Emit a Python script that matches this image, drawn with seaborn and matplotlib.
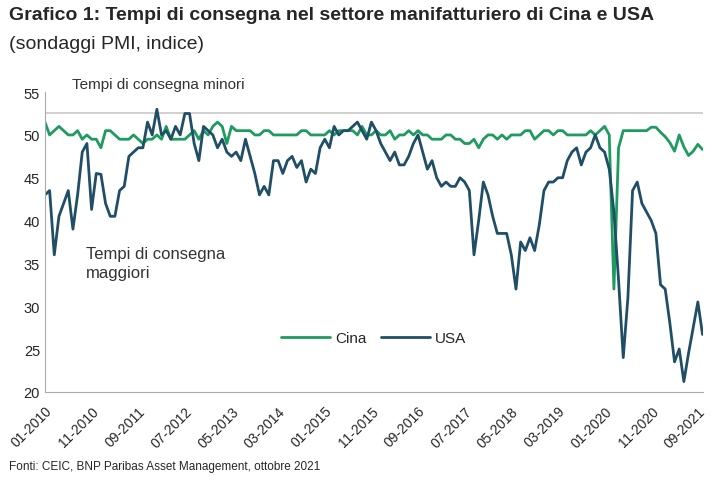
import numpy as np
import pandas as pd
import matplotlib.pyplot as plt
import seaborn as sns

# monthly PMI supplier delivery times, 01-2010 .. 10-2021
usa = [
    43, 43.5, 36, 40.5, 42, 43.5, 39, 43, 48, 49,
    41.3, 45.5, 45.4, 42, 40.5, 40.5, 43.5, 44, 47.5, 48,
    48.5, 48.5, 51.5, 50, 53, 50, 50.5, 49.5, 51, 50,
    52.5, 52.5, 49, 47, 51, 50.5, 50, 48.5, 49.5, 48,
    47.5, 48, 47, 49.5, 47.5, 45.5, 43, 44, 43, 47,
    47, 45.5, 47, 47.5, 46.2, 47, 44.5, 46, 45.5, 48.5,
    49.5, 48.5, 51, 50, 50.5, 50.5, 51, 51.5, 50.5, 49.5,
    51.5, 50.5, 49, 48, 47, 48, 46.5, 46.5, 47.5, 49,
    50, 48, 46, 47, 45, 44, 44.5, 44, 44, 45,
    44.5, 43.5, 36, 40, 44.5, 43, 40.5, 38.5, 38.5, 38.5,
    36, 32, 37.5, 36.5, 38, 36.5, 39.5, 43.5, 44.5, 44.5,
    45, 45, 47, 48, 48.5, 46.5, 48, 48.5, 50, 48.5,
    48, 46, 41, 33, 24, 31, 43.5, 44.5, 42, 41,
    40, 38.5, 32.5, 32, 28, 23.5, 25, 21.2, 24.5, 27.5, 30.5, 26.7,
]
cina = [
    51.5, 50, 50.5, 51, 50.5, 50, 50, 50.5, 49.5, 50,
    49.5, 49.5, 48.5, 50.5, 50.5, 50, 49.5, 49.5, 49.5, 50,
    49.5, 49, 49.5, 49.5, 50, 49.5, 51, 49.5, 49.5, 49.5,
    49.5, 50, 50.5, 49.5, 50.5, 50, 51, 51.5, 51, 49,
    51, 50.5, 50.5, 50.5, 50.5, 50, 50, 50.5, 50.5, 50,
    50, 50, 50, 50, 50, 50.5, 50.5, 50, 50, 50,
    50, 50.5, 50, 50.5, 50.5, 50.5, 50.5, 50, 51, 50,
    50, 50.5, 50, 50, 50.5, 49.5, 50, 50, 50.5, 50,
    50.5, 50, 50, 49.5, 49.5, 49.5, 50, 50, 49.5, 49.5,
    49, 49, 49.5, 48.5, 49.5, 50, 50, 49.5, 50, 49.5,
    50, 50, 50, 50.5, 50.5, 49.5, 50, 50.5, 50.5, 50,
    50.5, 50.5, 50, 50, 50, 50, 50, 50.5, 50, 50.5,
    51, 50, 32, 48.5, 50.5, 50.5, 50.5, 50.5, 50.5, 50.5,
    50.9, 50.9, 50.3, 49.8, 49.1, 48.1, 50, 48.6, 47.6, 48.1, 48.9, 48.3,
]
tick_labels = ["01-2010", "11-2010", "09-2011", "07-2012", "05-2013", "03-2014",
               "01-2015", "11-2015", "09-2016", "07-2017", "05-2018", "03-2019",
               "01-2020", "11-2020", "09-2021"]

n = len(usa)
df = pd.DataFrame({
    "mese": list(range(n)) * 2,
    "valore": cina + usa,
    "serie": ["Cina"] * n + ["USA"] * n,
})

sns.set_style("white")
plt.rcParams["font.family"] = ["Liberation Sans", "DejaVu Sans"]

fig = plt.figure(figsize=(7.25, 4.85), dpi=100)
ax = fig.add_axes([0.062, 0.19, 0.907, 0.618])
sns.lineplot(data=df, x="mese", y="valore", hue="serie",
             palette={"Cina": "#1e9b5e", "USA": "#1f4e66"},
             linewidth=2.0, ax=ax)

ax.axhline(52.6, color="#c8c8c8", linewidth=1.2, zorder=0)
ax.set_ylim(20, 55)
ax.set_yticks(range(20, 56, 5))
ax.set_xlim(0, n - 1)
ax.set_xticks(range(0, n, 10))
ax.set_xticklabels(tick_labels, rotation=45, ha="right", rotation_mode="anchor")
ax.tick_params(axis="x", length=5, color="#999999", labelsize=10)
ax.tick_params(axis="y", labelsize=10.5, length=0)
ax.set_xlabel("")
ax.set_ylabel("")
for s in ["top", "right"]:
    ax.spines[s].set_visible(False)
ax.spines["left"].set_color("#aaaaaa")
ax.spines["bottom"].set_color("#aaaaaa")

ax.legend(loc="lower center", bbox_to_anchor=(0.5, 0.11), ncol=2, frameon=False,
          fontsize=11, handlelength=3.2, columnspacing=1.0, handletextpad=0.3)

fig.text(0.1, 0.84, "Tempi di consegna minori", fontsize=11, color="#333333", va="top")
fig.text(0.118, 0.49, "Tempi di consegna\nmaggiori", fontsize=12, color="#333333",
         va="top", linespacing=1.3)

fig.text(0.012, 0.985, "Grafico 1: Tempi di consegna nel settore manifatturiero di Cina e USA",
         fontsize=14, fontweight="bold", va="top")
fig.text(0.012, 0.925, "(sondaggi PMI, indice)", fontsize=14, va="top")
fig.text(0.012, 0.025, "Fonti: CEIC, BNP Paribas Asset Management, ottobre 2021",
         fontsize=8.5, va="bottom")

fig.savefig("out.png", dpi=100)
